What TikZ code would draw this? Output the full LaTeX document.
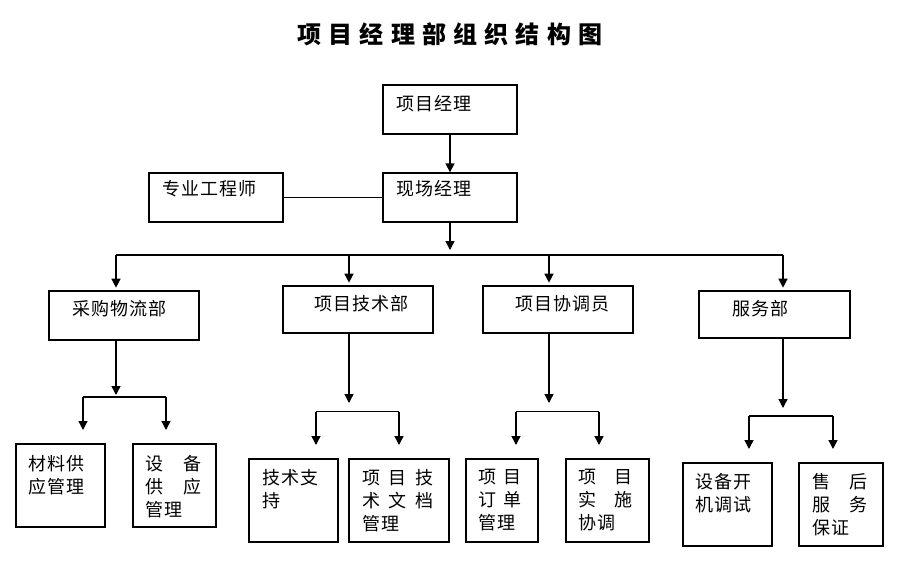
\documentclass[tikz,border=0pt]{standalone}
\usepackage{fontspec}
\usetikzlibrary{arrows.meta}
\newfontfamily\cjk{Noto Sans CJK SC}[LetterSpace=5]
\newfontfamily\cjktitle{Noto Sans CJK SC}[LetterSpace=30]

\begin{document}
\begin{tikzpicture}[x=0.75pt, y=-0.75pt,
  box/.style 2 args={draw, line width=1pt, inner sep=0pt, minimum width=#1*0.75pt, minimum height=#2*0.75pt},
  txt/.style={anchor=north west, inner sep=0pt, align=left, font=\cjk\fontsize{13.5}{17.25}\selectfont},
  ln/.style={line width=1pt},
  arr/.style={line width=1pt, -{Triangle[width=6.75pt, length=6.75pt]}}]
\useasboundingbox (0,0) rectangle (921,565);

\node[font=\cjktitle\bfseries\fontsize{18}{20}\selectfont] (title) at (450,34) {项目经理部组织结构图};

% top part
\node[box={134}{49}] (pm) at (450,109.5) {};
\node[box={134}{49}] (sm) at (450,197.5) {};
\node[box={134}{49}] (se) at (216,197.5) {};
\node[txt] (pm-t) at ([shift={(14,10.5)}]pm.north west) {项目经理};
\node[txt] (sm-t) at ([shift={(14,7.5)}]sm.north west) {现场经理};
\node[txt] (se-t) at ([shift={(14,7.5)}]se.north west) {专业工程师};

% departments
\node[box={150}{49}] (pu) at (124,315.5) {};
\node[box={150}{47}] (te) at (358,309.5) {};
\node[box={150}{47}] (co) at (558,309.5) {};
\node[box={151}{47}] (sv) at (774.5,314.5) {};
\node[txt] (pu-t) at ([shift={(24,9.5)}]pu.north west) {采购物流部};
\node[txt] (te-t) at ([shift={(32,9.5)}]te.north west) {项目技术部};
\node[txt] (co-t) at ([shift={(33,9.5)}]co.north west) {项目协调员};
\node[txt] (sv-t) at ([shift={(34,9.5)}]sv.north west) {服务部};

% bottom row
\node[box={89}{83}] (m1) at (60.5,485.5) {};
\node[box={83}{83}] (m2) at (174.5,485.5) {};
\node[box={89}{83}] (t1) at (293.5,500.5) {};
\node[box={100}{83}] (t2) at (399,500.5) {};
\node[box={72}{83}] (c1) at (502,500.5) {};
\node[box={83}{83}] (c2) at (607.5,500.5) {};
\node[box={89}{83}] (s1) at (727.5,504.5) {};
\node[box={84}{83}] (s2) at (841,504.5) {};
\node[txt] (m1-t) at ([shift={(13,11.5)}]m1.north west) {材料供\\应管理};
\node[txt, text width=42pt] (m2-t) at ([shift={(13,11.5)}]m2.north west) {设\hfill 备\\供\hfill 应\\管理};
\node[txt] (t1-t) at ([shift={(14,10.5)}]t1.north west) {技术支\\持};
\node[txt, text width=53pt] (t2-t) at ([shift={(14,10.5)}]t2.north west) {项\hfill 目\hfill 技\\术\hfill 文\hfill 档\\管理};
\node[txt, text width=32.3pt] (c1-t) at ([shift={(13,10.5)}]c1.north west) {项\hfill 目\\订\hfill 单\\管理};
\node[txt, text width=40.5pt] (c2-t) at ([shift={(13,10.5)}]c2.north west) {项\hfill 目\\实\hfill 施\\协调};
\node[txt] (s1-t) at ([shift={(13,10.5)}]s1.north west) {设备开\\机调试};
\node[txt, text width=41.3pt] (s2-t) at ([shift={(14,10.5)}]s2.north west) {售\hfill 后\\服\hfill 务\\保证};

% connectors
\draw[arr] (pm) -- (sm);
\draw[ln] (se) -- (sm);
\coordinate (hub) at (450,250);
\coordinate (dpu) at (116,255);
\coordinate (dte) at (349,255);
\coordinate (dco) at (549,255);
\coordinate (dsv) at (783,255);
\draw[arr] (sm.south) -- (hub);
\draw[ln] (dpu) -- (dsv);
\foreach \d in {pu,te,co,sv}{
  \draw[arr, shorten >=2pt] (d\d) -- (d\d |- \d.north);
}
\foreach \d/\x/\ya/\yb/\xl/\xr/\l/\r in {pu/116/395/397/83/166/m1/m2, te/349/403/411.7/316/399/t1/t2,
    co/549/403/411.7/516/599/c1/c2, sv/783/408/416/749/833/s1/s2}{
  \coordinate (k\d) at (\x,\ya);
  \coordinate (l\d) at (\xl,\yb);
  \coordinate (r\d) at (\xr,\yb);
  \draw[arr] (d\d |- \d.south) -- (k\d);
  \draw[ln] (l\d) -- (r\d);
  \draw[arr, shorten >=10pt] (l\d) -- (l\d |- \l.north);
  \draw[arr, shorten >=10pt] (r\d) -- (r\d |- \r.north);
}
\end{tikzpicture}
\end{document}
